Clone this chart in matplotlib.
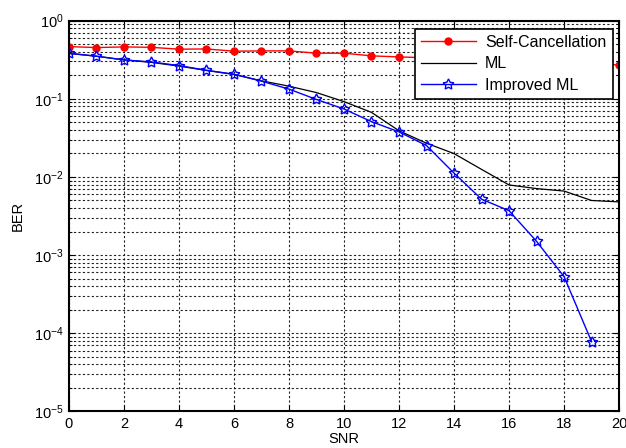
import matplotlib
matplotlib.use('agg')
import matplotlib.pyplot as plt
import numpy as np
from matplotlib.ticker import LogLocator, NullFormatter

# SNR points
snr = list(range(0, 21))
snr_imp = list(range(0, 20))

# BER values
ber_self = [0.465, 0.452, 0.461, 0.455, 0.431, 0.434, 0.406, 0.41, 0.41, 0.383,
            0.383, 0.354, 0.343, 0.335, 0.325, 0.315, 0.305, 0.295, 0.287, 0.279,
            0.271]
ber_ml = [0.38, 0.35, 0.315, 0.292, 0.262, 0.23, 0.205, 0.17, 0.145, 0.12,
          0.092, 0.067, 0.039, 0.027, 0.0199, 0.0125, 0.0079, 0.0071, 0.0066,
          0.0050, 0.0048]
ber_imp = [0.383, 0.351, 0.314, 0.296, 0.266, 0.232, 0.206, 0.168, 0.133, 0.098,
           0.074, 0.051, 0.0377, 0.0252, 0.0112, 0.0052, 0.0037, 0.0015,
           0.00053, 7.8e-5]

plt.rcParams['font.family'] = ['Liberation Sans', 'DejaVu Sans']
plt.rcParams['font.size'] = 10.5

fig = plt.figure(figsize=(6.26, 4.48), dpi=100)
ax = fig.add_axes([0.110, 0.0815, 0.879, 0.8725])

ax.semilogy(snr, ber_self, '-', color='red', marker='o', markersize=5,
            linewidth=1, label='Self-Cancellation')
ax.semilogy(snr, ber_ml, '-', color='black', linewidth=0.9, label='ML')
ax.semilogy(snr_imp, ber_imp, '-', color='blue', marker=(5, 1, 0),
            markersize=8, markerfacecolor='none', markeredgewidth=1,
            linewidth=1, label='Improved ML')

ax.set_xlim(0, 20)
ax.set_ylim(1e-5, 1)
ax.set_xticks(range(0, 21, 2))
ax.yaxis.set_major_locator(LogLocator(base=10, numticks=10))
ax.yaxis.set_minor_locator(LogLocator(base=10, subs=np.arange(2, 10), numticks=10))
ax.yaxis.set_minor_formatter(NullFormatter())

ax.grid(True, which='major', color='#222222', linestyle=(0, (2, 2)), linewidth=0.8)
ax.grid(True, which='minor', axis='y', color='#222222', linestyle=(0, (2, 2)),
        linewidth=0.8)

ax.tick_params(which='both', direction='in', top=True, right=True)
ax.tick_params(which='major', length=4, pad=4)
ax.tick_params(which='minor', length=2)
for s in ax.spines.values():
    s.set_linewidth(1.5)

ax.set_xlabel('SNR', labelpad=1)
ax.set_ylabel('BER', labelpad=6)

leg = ax.legend(loc='upper right', fancybox=False, framealpha=1,
                edgecolor='black', handlelength=3.4, borderaxespad=0.5,
                fontsize=11.5, borderpad=0.4, labelspacing=0.4,
                handletextpad=0.6, bbox_to_anchor=(1.003, 1.0))
leg.get_frame().set_linewidth(1.2)

plt.savefig('out.png')
plt.close(fig)
